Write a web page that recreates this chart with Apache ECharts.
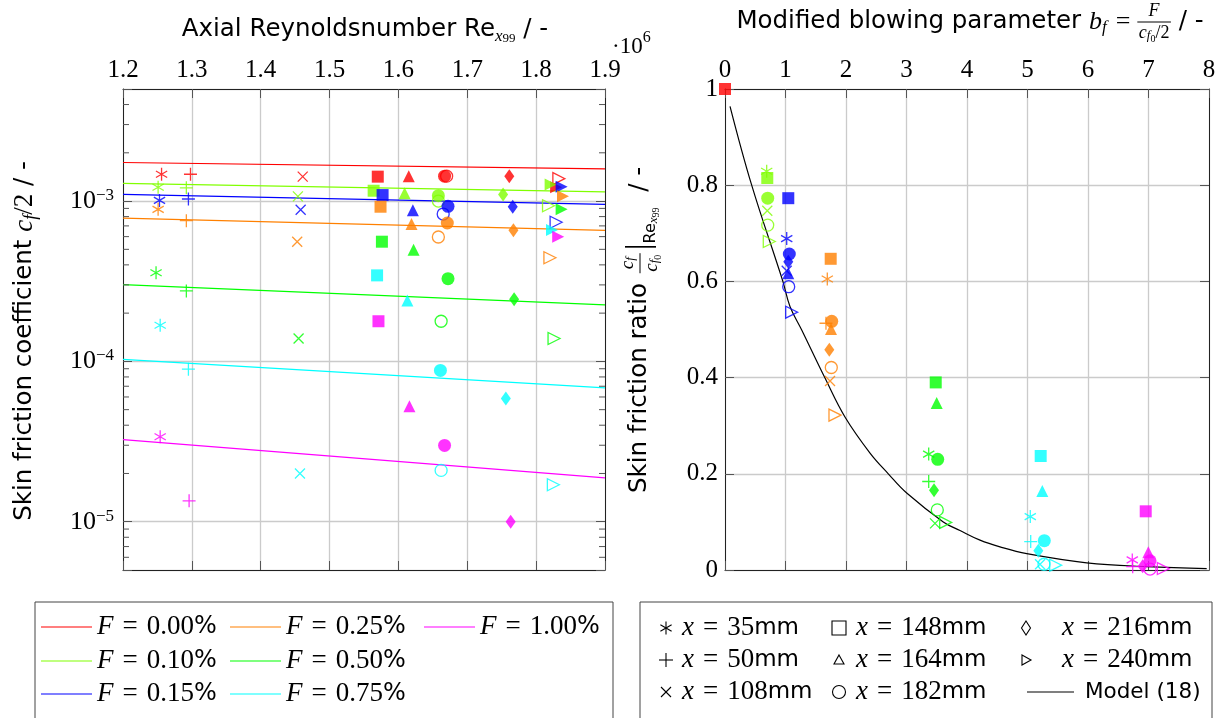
<!DOCTYPE html>
<html><head><meta charset="utf-8">
<script src="https://cdn.jsdelivr.net/npm/echarts@6/dist/echarts.min.js"></script>
<style>html,body{margin:0;padding:0;background:#fff}#c{width:1223px;height:718px}</style>
</head><body><div id="c"></div>
<script>
// ---------------- DATA ----------------
// marker order used by every array below
const markerKeys = ['star','plus','cross','square','triangle','circle','circleOpen','diamond','tri','triOpen'];
const blowingLabels = ['0.00','0.10','0.15','0.25','0.50','0.75','1.00'];

// Left plot: Re_x99 (x 10^6) and c_f/2 per blowing rate
const re_000 = [1.256,1.298,1.461,1.570,1.615,1.667,1.670,1.761,1.829,1.833];
const cf_000 = [1.47e-3,1.47e-3,1.42e-3,1.42e-3,1.43e-3,1.43e-3,1.43e-3,1.43e-3,1.22e-3,1.38e-3];
const re_010 = [1.251,1.292,1.454,1.564,1.609,1.658,1.658,1.752,1.821,1.818];
const cf_010 = [1.22e-3,1.21e-3,1.07e-3,1.16e-3,1.12e-3,1.08e-3,1.00e-3,1.10e-3,1.27e-3,9.35e-4];
const re_015 = [1.253,1.295,1.458,1.577,1.621,1.672,1.665,1.766,1.837,1.829];
const cf_015 = [1.01e-3,1.03e-3,8.83e-4,1.09e-3,8.75e-4,9.27e-4,8.30e-4,9.22e-4,1.23e-3,7.38e-4];
const re_025 = [1.251,1.292,1.453,1.574,1.619,1.671,1.658,1.767,1.839,1.820];
const cf_025 = [8.88e-4,7.55e-4,5.58e-4,9.22e-4,7.19e-4,7.30e-4,5.97e-4,6.58e-4,1.07e-3,4.43e-4];
const re_050 = [1.248,1.292,1.455,1.576,1.622,1.672,1.662,1.768,1.837,1.826];
const cf_050 = [3.57e-4,2.75e-4,1.39e-4,5.58e-4,4.97e-4,3.28e-4,1.78e-4,2.44e-4,8.88e-4,1.39e-4];
const re_075 = [1.254,1.295,1.457,1.569,1.613,1.661,1.662,1.756,1.823,1.825];
const cf_075 = [1.68e-4,8.95e-5,2.00e-5,3.44e-4,2.40e-4,8.79e-5,2.09e-5,5.86e-5,6.61e-4,1.70e-5];
const re_100 = [1.254,1.296,null,1.571,1.616,1.667,null,1.763,1.832,null];
const cf_100 = [3.39e-5,1.35e-5,null,1.78e-4,5.25e-5,2.99e-5,null,1.0e-5,6.00e-4,null];

// Left plot fit lines (values at Re = 1.2 and 1.9 x 10^6)
const fitRe = [1.2, 1.9];
const fit_000 = [1.74e-3, 1.59e-3];
const fit_010 = [1.29e-3, 1.14e-3];
const fit_015 = [1.10e-3, 9.54e-4];
const fit_025 = [7.83e-4, 6.56e-4];
const fit_050 = [3.01e-4, 2.25e-4];
const fit_075 = [1.03e-4, 6.83e-5];
const fit_100 = [3.25e-5, 1.88e-5];

// Right plot: blowing parameter b_f and skin friction ratio
const bf_000 = [null,null,null,0,null,null,null,null,null,null];
const cr_000 = [null,null,null,1,null,null,null,null,null,null];
const bf_010 = [0.689,null,0.699,0.699,null,0.706,0.706,null,null,0.732];
const cr_010 = [0.829,null,0.747,0.815,null,0.773,0.717,null,null,0.683];
const bf_015 = [1.020,null,1.020,1.046,1.046,1.063,1.053,1.046,null,1.102];
const cr_015 = [0.689,null,0.622,0.773,0.617,0.657,0.589,0.641,null,0.536];
const bf_025 = [1.691,1.669,1.736,1.747,1.752,1.764,1.757,1.724,null,1.818];
const cr_025 = [0.605,0.513,0.393,0.647,0.501,0.517,0.421,0.458,null,0.322];
const bf_050 = [3.367,3.367,3.471,3.483,3.499,3.516,3.509,3.455,null,3.648];
const cr_050 = [0.241,0.184,0.097,0.390,0.347,0.230,0.125,0.166,null,0.099];
const bf_075 = [5.046,5.053,5.207,5.218,5.245,5.278,5.273,5.179,null,5.466];
const cr_075 = [0.111,0.059,0.012,0.237,0.164,0.061,0.012,0.040,null,0.010];
const bf_100 = [6.732,6.739,null,6.954,6.997,7.025,7.025,6.904,null,7.245];
const cr_100 = [0.021,0.007,null,0.122,0.037,0.019,0.002,0.008,null,0.003];

// Model (18)
const modelBf    = [0.083,0.441,0.954,1.074,1.268,1.653,1.983,2.397,2.699,3.003,3.608,3.884,4.215,4.545,4.987,5.979,6.970,7.962];
const modelRatio = [0.964,0.800,0.601,0.548,0.499,0.399,0.318,0.243,0.200,0.160,0.100,0.082,0.062,0.048,0.034,0.015,0.007,0.003];

// Axis ranges / ticks
const reMin = 1.2, reMax = 1.9, reStep = 0.1;
const cfMin = 5e-6, cfMax = 5e-3;
const bfMin = 0, bfMax = 8, bfStep = 1;
const crMin = 0, crMax = 1, crStep = 0.2;
const cfMinorTicks = [6e-6,7e-6,8e-6,9e-6,2e-5,3e-5,4e-5,5e-5,6e-5,7e-5,8e-5,9e-5,
                      2e-4,3e-4,4e-4,5e-4,6e-4,7e-4,8e-4,9e-4,2e-3,3e-3,4e-3];

// ---------------- STYLE ----------------
const colors = ['#ff0000','#80ff00','#0000ff','#ff8000','#00ff00','#00ffff','#ff00ff'];
const SERIF = 'Liberation Serif';
const SANS = 'DejaVu Sans';
const leftSets  = [[re_000,cf_000],[re_010,cf_010],[re_015,cf_015],[re_025,cf_025],[re_050,cf_050],[re_075,cf_075],[re_100,cf_100]];
const rightSets = [[bf_000,cr_000],[bf_010,cr_010],[bf_015,cr_015],[bf_025,cr_025],[bf_050,cr_050],[bf_075,cr_075],[bf_100,cr_100]];
const fitSets = [fit_000,fit_010,fit_015,fit_025,fit_050,fit_075,fit_100];

const markerStyle = {
  star:      {symbol:'path://M5,0L5,10M0.67,2.5L9.33,7.5M0.67,7.5L9.33,2.5', size:13, fill:false},
  plus:      {symbol:'path://M0,5L10,5M5,0L5,10', size:13, fill:false},
  cross:     {symbol:'path://M0,0L10,10M0,10L10,0', size:10, fill:false},
  square:    {symbol:'rect', size:12, fill:true},
  triangle:  {symbol:'triangle', size:12, fill:true},
  circle:    {symbol:'circle', size:13, fill:true},
  circleOpen:{symbol:'circle', size:12, fill:false},
  diamond:   {symbol:'diamond', size:[10,14], fill:true},
  tri:       {symbol:'triangle', size:12, fill:true, rotate:-90},
  triOpen:   {symbol:'triangle', size:12, fill:false, rotate:-90}
};

function buildItems(xs, ys, color) {
  const items = [];
  markerKeys.forEach((k, i) => {
    if (xs[i] == null || ys[i] == null) return;
    const m = markerStyle[k];
    items.push({
      value: [xs[i], ys[i]],
      symbol: m.symbol, symbolSize: m.size, symbolRotate: m.rotate || 0,
      itemStyle: m.fill ? {color: color, borderWidth: 0}
                        : {color: 'rgba(0,0,0,0)', borderColor: color, borderWidth: 1.3}
    });
  });
  return items;
}

const series = [];
fitSets.forEach((f, c) => {
  series.push({type:'line', xAxisIndex:0, yAxisIndex:0, data: fitRe.map((x, i) => [x, f[i]]),
    symbol:'none', silent:true, lineStyle:{color:colors[c], width:1.2}, z:2});
});
leftSets.forEach((s, c) => {
  series.push({type:'scatter', xAxisIndex:0, yAxisIndex:0, data: buildItems(s[0], s[1], colors[c]),
    symbolKeepAspect:true, clip:false, silent:true, z:3});
});
rightSets.forEach((s, c) => {
  series.push({type:'scatter', xAxisIndex:2, yAxisIndex:2, data: buildItems(s[0], s[1], colors[c]),
    symbolKeepAspect:true, clip:false, silent:true, z:3});
});
series.push({type:'line', xAxisIndex:2, yAxisIndex:2, data: modelBf.map((x, i) => [x, modelRatio[i]]),
  smooth:0.4, symbol:'none', silent:true, lineStyle:{color:'#000', width:1.2}, z:2});
series.push({type:'custom', xAxisIndex:0, yAxisIndex:0, silent:true, clip:false, z:4,
  data: cfMinorTicks.map(v => [reMin, v]),
  renderItem: (params, api) => {
    const l = api.coord([reMin, api.value(1)]);
    const r = api.coord([reMax, api.value(1)]);
    return {type:'group', children:[
      {type:'line', shape:{x1:l[0], y1:l[1], x2:l[0]+6, y2:l[1]}, style:{stroke:'#555', lineWidth:1}},
      {type:'line', shape:{x1:r[0]-6, y1:r[1], x2:r[0], y2:r[1]}, style:{stroke:'#555', lineWidth:1}}
    ]};
  }});

// ---------------- AXES ----------------
const lineS = {show:true, onZero:false, lineStyle:{color:'#222', width:1}};
const tickS = {show:true, inside:true, length:9, lineStyle:{color:'#555', width:1}};
const gridS = {show:true, lineStyle:{color:'#cbcbcb', width:1.3}};
const labelS = {fontFamily:SERIF, fontSize:25, color:'#000'};

const xAxis = [
  {gridIndex:0, type:'value', position:'top', min:reMin, max:reMax, interval:reStep, axisLine:lineS, axisTick:tickS,
   axisLabel:Object.assign({margin:6, formatter:v => v.toFixed(1)}, labelS), splitLine:gridS},
  {gridIndex:0, type:'value', position:'bottom', min:reMin, max:reMax, interval:reStep, axisLine:lineS, axisTick:tickS,
   axisLabel:{show:false}, splitLine:{show:false}},
  {gridIndex:1, type:'value', position:'top', min:bfMin, max:bfMax, interval:bfStep, axisLine:lineS, axisTick:tickS,
   axisLabel:Object.assign({margin:6, formatter:v => String(v)}, labelS), splitLine:gridS},
  {gridIndex:1, type:'value', position:'bottom', min:bfMin, max:bfMax, interval:bfStep, axisLine:lineS, axisTick:tickS,
   axisLabel:{show:false}, splitLine:{show:false}}
];
const yAxis = [
  {gridIndex:0, type:'log', logBase:10, position:'left', min:cfMin, max:cfMax, axisLine:lineS, axisTick:tickS,
   axisLabel:{margin:9, formatter:v => {
      const e = Math.log10(v), r = Math.round(e);
      if (Math.abs(e - r) > 1e-6) return '';
      return '{b|10}{e|\u2212' + (-r) + '}';
    },
    rich:{b:{fontFamily:SERIF, fontSize:26, color:'#000', lineHeight:28},
          e:{fontFamily:SERIF, fontSize:17, color:'#000', verticalAlign:'top', lineHeight:17}}},
   splitLine:gridS},
  {gridIndex:0, type:'log', logBase:10, position:'right', min:cfMin, max:cfMax, axisLine:lineS, axisTick:tickS,
   axisLabel:{show:false}, splitLine:{show:false}},
  {gridIndex:1, type:'value', position:'left', min:crMin, max:crMax, interval:crStep, axisLine:lineS, axisTick:tickS,
   axisLabel:Object.assign({margin:7, formatter:v => (v === 0 ? '0' : v === 1 ? '1' : v.toFixed(1))}, labelS),
   splitLine:gridS},
  {gridIndex:1, type:'value', position:'right', min:crMin, max:crMax, interval:crStep, axisLine:lineS, axisTick:tickS,
   axisLabel:{show:false}, splitLine:{show:false}}
];

// ---------------- TEXT LAYOUT HELPERS ----------------
const mctx = document.createElement('canvas').getContext('2d');
function cssFont(p) { return (p.i ? 'italic ' : 'normal ') + p.s + 'px "' + p.f + '"'; }
function shift(e, dx, dy) {
  if (e.type === 'line') { e.shape.x1 += dx; e.shape.x2 += dx; e.shape.y1 += dy; e.shape.y2 += dy; }
  else { e.x += dx; e.y += dy; }
}
function buildRow(pieces) {
  let x = 0; const els = [];
  for (const p of pieces) {
    x += p.pl || 0;
    if (p.num) {
      const n = buildRow(p.num), d = buildRow(p.den);
      const w = Math.max(n.w, d.w) + 3;
      n.els.forEach(e => { shift(e, x + (w - n.w) / 2, -p.g); els.push(e); });
      d.els.forEach(e => { shift(e, x + (w - d.w) / 2, p.g); els.push(e); });
      els.push({type:'line', shape:{x1:x, y1:0, x2:x + w, y2:0}, style:{stroke:'#000', lineWidth:1}});
      x += w;
    } else {
      mctx.font = cssFont(p);
      const w = mctx.measureText(p.t).width;
      els.push({type:'text', x:x, y:(p.dy || 0), style:{text:p.t, fontFamily:p.f, fontSize:p.s,
        fontStyle:p.i ? 'italic' : 'normal', fill:'#000', align:'left', verticalAlign:'middle'}});
      x += w;
    }
    x += p.pr || 0;
  }
  return {els, w:x};
}
function placeRow(pieces, x, y, anchor, rotation) {
  const r = buildRow(pieces);
  const off = anchor === 'center' ? -r.w / 2 : 0;
  r.els.forEach(e => shift(e, off, 0));
  return {type:'group', x:x, y:y, rotation:rotation || 0, silent:true, children:r.els};
}

const TS = 24.5; // sans title size
const graphics = [];
graphics.push(placeRow([
  {t:'Axial Reynoldsnumber Re', f:SANS, s:TS},
  {t:'x', f:SERIF, s:17, i:true, dy:7},
  {t:'99', f:SERIF, s:13, dy:9},
  {t:' / -', f:SANS, s:TS}
], 365, 30, 'center'));
graphics.push(placeRow([
  {t:'\u00b710', f:SERIF, s:23},
  {t:'6', f:SERIF, s:16, dy:-9}
], 612, 47, 'left'));
graphics.push(placeRow([
  {t:'Modified blowing parameter ', f:SANS, s:TS},
  {t:'b', f:SERIF, s:26, i:true},
  {t:'f', f:SERIF, s:17, i:true, dy:6, pr:3},
  {t:'=', f:SERIF, s:26, pl:6, pr:7},
  {num:[{t:'F', f:SERIF, s:18, i:true}],
   den:[{t:'c', f:SERIF, s:18, i:true},{t:'f', f:SERIF, s:13, i:true, dy:3},{t:'0', f:SERIF, s:10, dy:6},{t:'/2', f:SERIF, s:18}],
   g:11},
  {t:' / -', f:SANS, s:TS}
], 970, 22, 'center'));
graphics.push(placeRow([
  {t:'Skin friction coefficient ', f:SANS, s:TS},
  {t:'c', f:SERIF, s:27, i:true},
  {t:'f', f:SERIF, s:18, i:true, dy:6},
  {t:'/2', f:SERIF, s:27},
  {t:' / -', f:SANS, s:TS}
], 25, 341, 'center', Math.PI / 2));
graphics.push(placeRow([
  {t:'Skin friction ratio ', f:SANS, s:TS},
  {num:[{t:'c', f:SERIF, s:19, i:true},{t:'f', f:SERIF, s:13, i:true, dy:3}],
   den:[{t:'c', f:SERIF, s:19, i:true},{t:'f', f:SERIF, s:13, i:true, dy:3},{t:'0', f:SERIF, s:10, dy:6}],
   g:12, pl:2},
  {t:'|', f:SERIF, s:34, pl:3},
  {t:'Re', f:SANS, s:16, dy:11},
  {t:'x', f:SERIF, s:13, i:true, dy:14},
  {t:'99', f:SERIF, s:10, dy:16},
  {t:'  / -', f:SANS, s:TS}
], 640, 330, 'center', Math.PI / 2));

// left legend
graphics.push({type:'rect', silent:true, shape:{x:35, y:602, width:578, height:140}, style:{fill:'#fff', stroke:'#444', lineWidth:1}, z:0});
const legPos = [[41,627],[41,661],[41,694],[230,627],[230,661],[230,694],[424,627]];
blowingLabels.forEach((lab, c) => {
  const [lx, ly] = legPos[c];
  graphics.push({type:'line', silent:true, shape:{x1:lx, y1:ly, x2:lx + 51, y2:ly}, style:{stroke:colors[c], lineWidth:1.2}});
  graphics.push(placeRow([
    {t:'F', f:SERIF, s:27, i:true},
    {t:'=', f:SERIF, s:27, pl:9, pr:9},
    {t:lab, f:SERIF, s:27},
    {t:'%', f:SANS, s:24}
  ], lx + 56, ly, 'left'));
});

// right legend
graphics.push({type:'rect', silent:true, shape:{x:640, y:602, width:572, height:140}, style:{fill:'#fff', stroke:'#444', lineWidth:1}, z:0});
const stationLabels = [['35',666,628],['50',666,660],['108',666,692],['148',839,628],['164',839,660],['182',839,692],['216',1026,628],['240',1026,660]];
const textStart = {666:682, 839:856, 1026:1062};
function legSymbol(k, x, y) {
  const st = {stroke:'#000', lineWidth:1.1, fill:'none'};
  switch (k) {
    case 'star': return {type:'group', x, y, silent:true, children:[
      {type:'line', shape:{x1:0,y1:-6.5,x2:0,y2:6.5}, style:st},
      {type:'line', shape:{x1:-5.6,y1:-3.2,x2:5.6,y2:3.2}, style:st},
      {type:'line', shape:{x1:-5.6,y1:3.2,x2:5.6,y2:-3.2}, style:st}]};
    case 'plus': return {type:'group', x, y, silent:true, children:[
      {type:'line', shape:{x1:0,y1:-7,x2:0,y2:7}, style:st},
      {type:'line', shape:{x1:-7,y1:0,x2:7,y2:0}, style:st}]};
    case 'cross': return {type:'group', x, y, silent:true, children:[
      {type:'line', shape:{x1:-5,y1:-5,x2:5,y2:5}, style:st},
      {type:'line', shape:{x1:-5,y1:5,x2:5,y2:-5}, style:st}]};
    case 'square': return {type:'rect', x, y, silent:true, shape:{x:-7,y:-7,width:14,height:14}, style:st};
    case 'triangle': return {type:'polygon', x, y, silent:true, shape:{points:[[0,-5],[5,4],[-5,4]]}, style:st};
    case 'circle': return {type:'circle', x, y, silent:true, shape:{cx:0,cy:0,r:6.5}, style:st};
    case 'diamond': return {type:'polygon', x, y, silent:true, shape:{points:[[0,-7],[4.5,0],[0,7],[-4.5,0]]}, style:st};
    case 'triOpen': return {type:'polygon', x, y, silent:true, shape:{points:[[-4,-5],[5,0],[-4,5]]}, style:st};
  }
}
const legKeys = ['star','plus','cross','square','triangle','circle','diamond','triOpen'];
stationLabels.forEach((s, i) => {
  graphics.push(legSymbol(legKeys[i], s[1], s[2]));
  graphics.push(placeRow([
    {t:'x', f:SERIF, s:27, i:true},
    {t:'=', f:SERIF, s:27, pl:9, pr:9},
    {t:s[0], f:SERIF, s:27},
    {t:'mm', f:SANS, s:23}
  ], textStart[s[1]], s[2], 'left'));
});
graphics.push({type:'line', silent:true, shape:{x1:1027, y1:692, x2:1074, y2:692}, style:{stroke:'#000', lineWidth:1.1}});
graphics.push(placeRow([{t:'Model (18)', f:SANS, s:21.5}], 1085, 692, 'left'));

const chart = echarts.init(document.getElementById('c'), null, {renderer:'canvas'});
chart.setOption({
  animation:false,
  backgroundColor:'#fff',
  tooltip:{show:false},
  grid:[{left:123, top:89, width:482, height:481}, {left:725, top:89, width:484, height:481}],
  xAxis, yAxis, series,
  graphic:{elements:graphics}
});
</script>
</body></html>
